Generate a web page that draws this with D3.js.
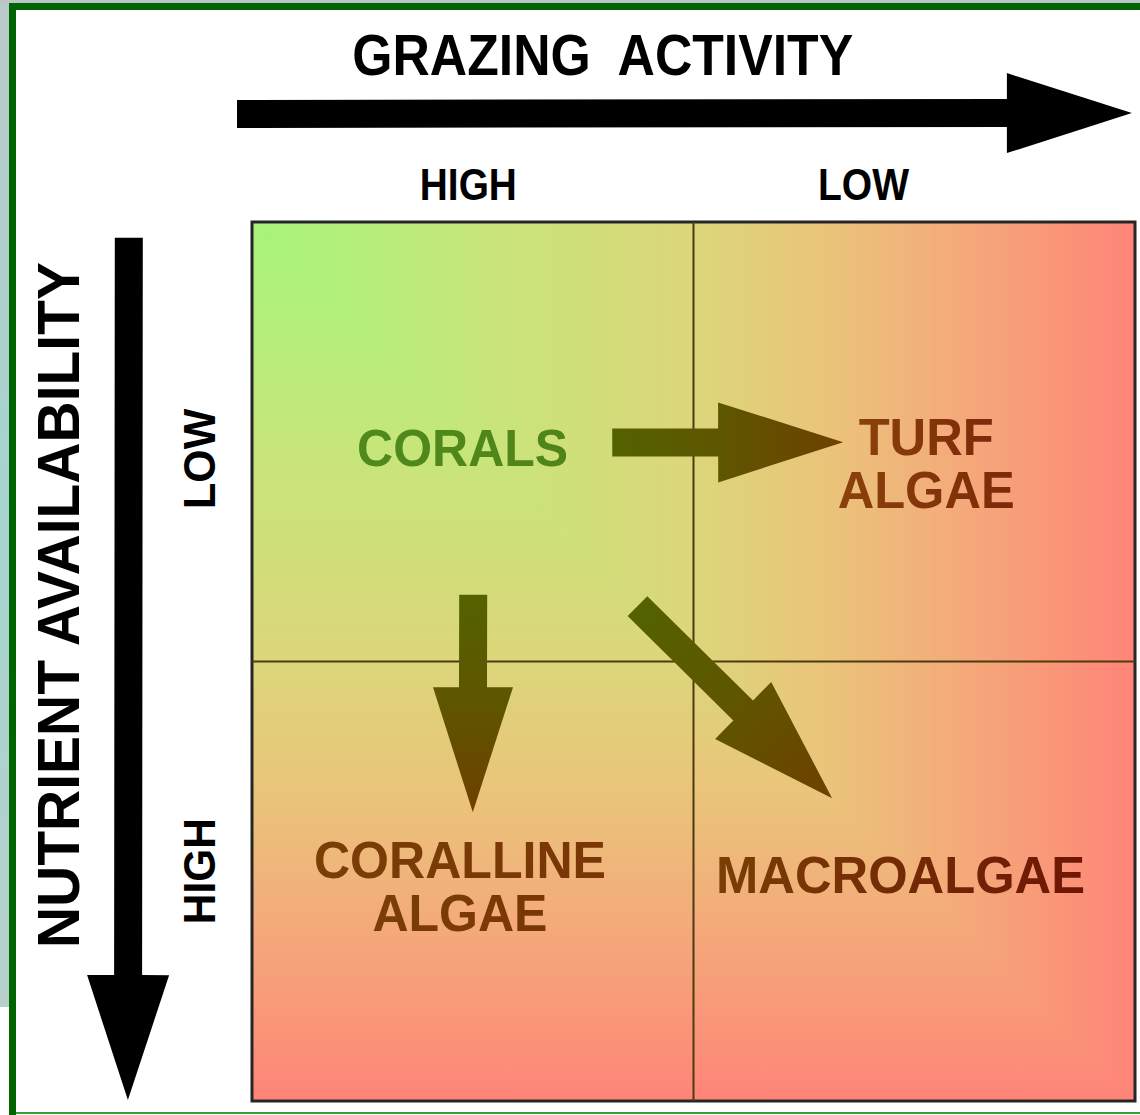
<!DOCTYPE html>
<html>
<head>
<meta charset="utf-8">
<script src="https://cdn.jsdelivr.net/npm/d3@7"></script>
<style>
  html, body { margin: 0; padding: 0; background: #ffffff; }
  svg { display: block; }
  text { font-family: "Liberation Sans", Arial, Helvetica, sans-serif; font-weight: bold; }
</style>
</head>
<body>
<div id="chart"></div>
<script>
// ---------------- DATA ----------------
const grazingLevels = ["HIGH", "LOW"];          // x categories (left -> right)
const nutrientLevels = ["LOW", "HIGH"];         // y categories (top -> bottom)
const xAxisTitle = "GRAZING ACTIVITY";
const yAxisTitle = "NUTRIENT AVAILABILITY";

const communityNames = ["CORALS", "TURF ALGAE", "CORALLINE ALGAE", "MACROALGAE"];
const communityLines = [["CORALS"], ["TURF", "ALGAE"], ["CORALLINE", "ALGAE"], ["MACROALGAE"]];
const communityGrazing = ["HIGH", "LOW", "HIGH", "LOW"];
const communityNutrient = ["LOW", "LOW", "HIGH", "HIGH"];

const transitionFrom = ["CORALS", "CORALS", "CORALS"];
const transitionTo = ["TURF ALGAE", "CORALLINE ALGAE", "MACROALGAE"];

// ---------------- LAYOUT ----------------
const W = 1140, H = 1115;
const box = { x0: 252, x1: 1135, y0: 222, y1: 1101 };

const svg = d3.select("#chart").append("svg").attr("width", W).attr("height", H);
const defs = svg.append("defs");

// scales: band scales for quadrants, linear "unit" scales for fine placement
const xBand = d3.scaleBand().domain(grazingLevels).range([box.x0, box.x1]).padding(0);
const yBand = d3.scaleBand().domain(nutrientLevels).range([box.y0, box.y1]).padding(0);
const xU = d3.scaleLinear().domain([0, 2]).range([box.x0, box.x1]);
const yU = d3.scaleLinear().domain([0, 2]).range([box.y0, box.y1]);

// ---- page frame (slide background + green border) ----
const bgGrad = defs.append("linearGradient").attr("id", "slidebg").attr("x1", 0).attr("y1", 0).attr("x2", 0).attr("y2", 1);
bgGrad.append("stop").attr("offset", 0).attr("stop-color", "#b9c9c9");
bgGrad.append("stop").attr("offset", 0.5).attr("stop-color", "#a6d4cf");
bgGrad.append("stop").attr("offset", 1).attr("stop-color", "#b6d0cc");
svg.append("rect").attr("x", 0).attr("y", 0).attr("width", 10).attr("height", 1007).attr("fill", "url(#slidebg)");
svg.append("rect").attr("x", 0).attr("y", 0).attr("width", W).attr("height", 4).attr("fill", "#bcc6c6");
svg.append("rect").attr("x", 9).attr("y", 3).attr("width", W - 9).attr("height", 7).attr("fill", "#006400");
svg.append("rect").attr("x", 9).attr("y", 3).attr("width", 7).attr("height", H - 3).attr("fill", "#006400");
svg.append("rect").attr("x", 16).attr("y", 1112).attr("width", W - 16).attr("height", 2).attr("fill", "#3c9a3c");

// ---- quadrant box with "max(x,y)" gradient: vertical gradient + horizontal gradient in upper-right triangle ----
const gradStops = [[0, "#a8f47a"], [0.12, "#b4ee7a"], [0.25, "#c6e67a"], [0.5, "#dcd67a"],
                   [0.65, "#eac47a"], [0.8, "#f4aa7a"], [0.92, "#fa9478"], [1, "#ff8478"]];
function addLinear(id, horizontal) {
  const g = defs.append("linearGradient").attr("id", id)
    .attr("x1", 0).attr("y1", 0).attr("x2", horizontal ? 1 : 0).attr("y2", horizontal ? 0 : 1);
  gradStops.forEach(([o, c]) => g.append("stop").attr("offset", o).attr("stop-color", c));
}
addLinear("gradH", true);
addLinear("gradV", false);

defs.append("clipPath").attr("id", "upperRight").append("polygon")
  .attr("points", [[box.x0, box.y0], [box.x1, box.y0], [box.x1, box.y1]].map(p => p.join(",")).join(" "));

svg.append("rect")
  .attr("x", box.x0).attr("y", box.y0)
  .attr("width", box.x1 - box.x0).attr("height", box.y1 - box.y0)
  .attr("fill", "url(#gradV)");
svg.append("rect")
  .attr("x", box.x0).attr("y", box.y0)
  .attr("width", box.x1 - box.x0).attr("height", box.y1 - box.y0)
  .attr("fill", "url(#gradH)")
  .attr("clip-path", "url(#upperRight)");
svg.append("rect")
  .attr("x", box.x0).attr("y", box.y0)
  .attr("width", box.x1 - box.x0).attr("height", box.y1 - box.y0)
  .attr("fill", "none")
  .attr("stroke", "#262626").attr("stroke-width", 3);

// dividers between quadrants
svg.append("line")
  .attr("x1", xBand("LOW")).attr("x2", xBand("LOW"))
  .attr("y1", box.y0).attr("y2", box.y1)
  .attr("stroke", "#4a3c10").attr("stroke-width", 2);
svg.append("line")
  .attr("x1", box.x0).attr("x2", box.x1)
  .attr("y1", yBand("HIGH")).attr("y2", yBand("HIGH"))
  .attr("stroke", "#4a3c10").attr("stroke-width", 2);

// ---- arrow helper ----
function arrowPath(x1, y1, x2, y2, shaftW, headW, headL) {
  const dx = x2 - x1, dy = y2 - y1, L = Math.hypot(dx, dy);
  const ux = dx / L, uy = dy / L, nx = -uy, ny = ux;
  const bx = x2 - ux * headL, by = y2 - uy * headL;
  const p = [
    [x1 + nx * shaftW / 2, y1 + ny * shaftW / 2],
    [bx + nx * shaftW / 2, by + ny * shaftW / 2],
    [bx + nx * headW / 2, by + ny * headW / 2],
    [x2, y2],
    [bx - nx * headW / 2, by - ny * headW / 2],
    [bx - nx * shaftW / 2, by - ny * shaftW / 2],
    [x1 - nx * shaftW / 2, y1 - ny * shaftW / 2]
  ];
  return "M" + p.map(q => q[0].toFixed(1) + "," + q[1].toFixed(1)).join("L") + "Z";
}

// ---- axis arrows ----
svg.append("path")
  .attr("d", arrowPath(xU(-0.034), yU(-0.246), xU(1.993), yU(-0.248), 28, 80, 125))
  .attr("fill", "#000");
svg.append("path")
  .attr("d", arrowPath(xU(-0.279), yU(0.036), xU(-0.281), yU(1.998), 28, 82, 125))
  .attr("fill", "#000");

// ---- axis titles ----
svg.append("text")
  .attr("x", xU(0.227)).attr("y", yU(-0.334))
  .attr("font-size", 58).attr("fill", "#000")
  .attr("textLength", 501).attr("lengthAdjust", "spacingAndGlyphs")
  .attr("xml:space", "preserve")
  .text(xAxisTitle.replace(" ", "  "));

svg.append("text")
  .attr("transform", `translate(${xU(-0.392)},${yU(1.652)}) rotate(-90)`)
  .attr("font-size", 60).attr("fill", "#000")
  .attr("textLength", 686).attr("lengthAdjust", "spacingAndGlyphs")
  .text(yAxisTitle);

// ---- category tick labels ----
const topTickPos = { HIGH: 0.490, LOW: 1.385 };
const topTickLen = { HIGH: 97, LOW: 91 };
svg.selectAll("text.xtick").data(grazingLevels).enter().append("text")
  .attr("class", "xtick")
  .attr("x", d => xU(topTickPos[d])).attr("y", yU(-0.05))
  .attr("text-anchor", "middle").attr("font-size", 44).attr("fill", "#000")
  .attr("textLength", d => topTickLen[d]).attr("lengthAdjust", "spacingAndGlyphs")
  .text(d => d);

const leftTickPos = { LOW: 0.539, HIGH: 1.477 };
const leftTickLen = { LOW: 100, HIGH: 106 };
svg.selectAll("text.ytick").data(nutrientLevels).enter().append("text")
  .attr("class", "ytick")
  .attr("transform", d => `translate(${xU(-0.084)},${yU(leftTickPos[d])}) rotate(-90)`)
  .attr("text-anchor", "middle").attr("font-size", 44).attr("fill", "#000")
  .attr("textLength", d => leftTickLen[d]).attr("lengthAdjust", "spacingAndGlyphs")
  .text(d => d);

// ---- transition arrows (inside the box) ----
const arrowEnds = {
  "TURF ALGAE":      { tail: [0.816, 0.502], tip: [1.339, 0.501] },
  "CORALLINE ALGAE": { tail: [0.501, 0.848], tip: [0.500, 1.343] },
  "MACROALGAE":      { tail: [0.873, 0.874], tip: [1.314, 1.311] }
};
transitionTo.forEach((to, i) => {
  const e = arrowEnds[to];
  const x1 = xU(e.tail[0]), y1 = yU(e.tail[1]), x2 = xU(e.tip[0]), y2 = yU(e.tip[1]);
  const gid = "ag" + i;
  const g = defs.append("linearGradient").attr("id", gid)
    .attr("gradientUnits", "userSpaceOnUse")
    .attr("x1", x1).attr("y1", y1).attr("x2", x2).attr("y2", y2);
  g.append("stop").attr("offset", 0).attr("stop-color", "#546200");
  g.append("stop").attr("offset", 0.5).attr("stop-color", "#5f5500");
  g.append("stop").attr("offset", 1).attr("stop-color", "#6e4000");
  svg.append("path")
    .attr("class", "transition")
    .attr("data-from", transitionFrom[i]).attr("data-to", to)
    .attr("d", arrowPath(x1, y1, x2, y2, 28, 80, 125))
    .attr("fill", `url(#${gid})`);
});

// ---- community labels ----
const labelPos = {
  "CORALS":          { x: 0.477, y: 0.555, len: [211] },
  "TURF ALGAE":      { x: 1.527, y: 0.530, len: [135, 177] },
  "CORALLINE ALGAE": { x: 0.471, y: 1.493, len: [292, 175] },
  "MACROALGAE":      { x: 1.469, y: 1.527, len: [369] }
};
const labelColors = {
  "CORALS": ["#4f8a1c", "#508418"],
  "TURF ALGAE": ["#8a420c", "#7e2808"],
  "CORALLINE ALGAE": ["#7a3e06", "#7a3606"],
  "MACROALGAE": ["#7a3e06", "#6e1604"]
};
communityNames.forEach((name, i) => {
  const p = labelPos[name];
  const cx = xU(p.x);
  const tg = defs.append("linearGradient").attr("id", "tg" + i)
    .attr("x1", 0).attr("y1", 0).attr("x2", 1).attr("y2", 0);
  tg.append("stop").attr("offset", 0).attr("stop-color", labelColors[name][0]);
  tg.append("stop").attr("offset", 1).attr("stop-color", labelColors[name][1]);
  communityLines[i].forEach((line, j) => {
    svg.append("text")
      .attr("x", cx).attr("y", yU(p.y) + j * 53)
      .attr("text-anchor", "middle")
      .attr("font-size", 52).attr("fill", `url(#tg${i})`)
      .attr("textLength", p.len[j]).attr("lengthAdjust", "spacingAndGlyphs")
      .text(line);
  });
});
</script>
</body>
</html>
